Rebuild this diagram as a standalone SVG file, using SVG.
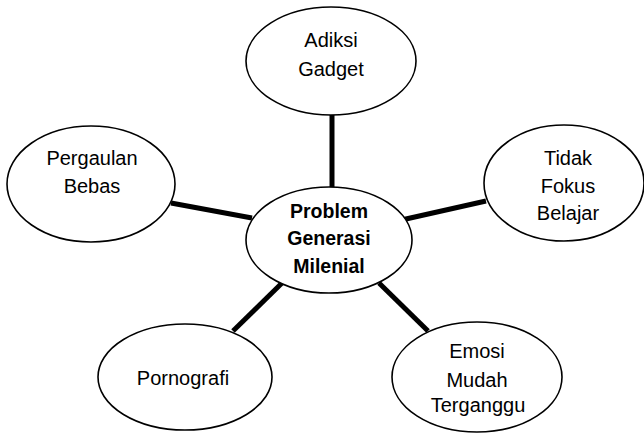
<svg xmlns="http://www.w3.org/2000/svg" width="644" height="434" viewBox="0 0 644 434">
<style>
.node ellipse{fill:#fff;stroke:#000;stroke-width:1.6}
.t{font-family:"Liberation Sans",Arial,sans-serif;font-size:20px;fill:#000;text-anchor:middle}
.b{font-weight:bold;font-size:19.5px}
.conn line{stroke:#000;stroke-width:5}
</style>
<defs>
<clipPath id="clipEmosi"><rect x="380" y="300" width="200" height="116"/></clipPath>
</defs>
<rect width="644" height="434" fill="#fff"/>
<g id="connectors" class="conn">
<line x1="332" y1="115" x2="332" y2="188"/>
<line x1="171" y1="203" x2="252" y2="218"/>
<line x1="397" y1="221" x2="486" y2="201"/>
<line x1="233" y1="331" x2="282" y2="283"/>
<line x1="379" y1="283" x2="428" y2="331"/>
</g>
<g id="adiksi" class="node">
<ellipse cx="331" cy="61" rx="85" ry="54"/>
<text class="t" x="331" y="47">Adiksi</text>
<text class="t" x="331" y="76">Gadget</text>
</g>
<g id="pergaulan" class="node">
<ellipse cx="91" cy="184" rx="84" ry="58"/>
<text class="t" x="92" y="165">Pergaulan</text>
<text class="t" x="92" y="193">Bebas</text>
</g>
<g id="tidak" class="node">
<ellipse cx="564" cy="183" rx="80" ry="58"/>
<text class="t" x="568" y="165">Tidak</text>
<text class="t" x="568" y="193">Fokus</text>
<text class="t" x="568" y="220">Belajar</text>
</g>
<g id="problem" class="node">
<ellipse cx="329" cy="240" rx="83" ry="53"/>
<text class="t b" x="329" y="218">Problem</text>
<text class="t b" x="329" y="245">Generasi</text>
<text class="t b" x="329" y="273">Milenial</text>
</g>
<g id="pornografi" class="node">
<ellipse cx="185" cy="377" rx="87" ry="53"/>
<text class="t" x="183" y="385">Pornografi</text>
</g>
<g id="emosi" class="node">
<ellipse cx="477" cy="377" rx="85" ry="55"/>
<text class="t" x="477" y="358">Emosi</text>
<text class="t" x="477" y="387">Mudah</text>
<text class="t" x="478" y="412" clip-path="url(#clipEmosi)">Terganggu</text>
</g>
</svg>
